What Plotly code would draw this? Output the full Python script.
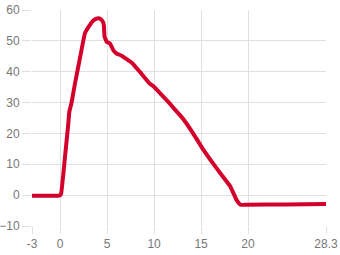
import plotly.graph_objects as go

x_vals = [-3, -2, -1, -0.2, 0.0, 0.1, 0.33, 0.54, 0.86, 0.97, 1.22, 1.57, 2.1, 2.64, 3.17, 3.5, 3.88, 4.1, 4.4, 4.6, 4.66, 4.72, 4.95, 5.3, 5.65, 6.0, 6.54, 7.25, 7.6, 8.5, 9.55, 9.9, 11.7, 12.0, 13.1, 14.2, 15.2, 16.6, 18.1, 18.8, 19.2, 20, 24, 28.3]
y_vals = [-0.2, -0.2, -0.2, -0.2, 0.0, 0.5, 6.7, 13.2, 23.0, 26.9, 30.1, 36.1, 44.3, 52.5, 55.2, 56.5, 57.2, 57.3, 56.8, 55.8, 54.6, 51.4, 49.7, 49.2, 47.0, 45.9, 45.2, 43.7, 43.0, 39.9, 36.1, 35.4, 29.6, 28.5, 24.7, 19.8, 14.9, 8.9, 2.9, -1.7, -3.1, -3.1, -3.0, -2.9]
x_ticks = [-3, 0, 5, 10, 15, 20, 28.3]
x_tick_labels = ["-3", "0", "5", "10", "15", "20", "28.3"]
y_ticks = [-10, 0, 10, 20, 30, 40, 50, 60]

fig = go.Figure()
fig.add_trace(go.Scatter(x=x_vals, y=y_vals, mode="lines",
                         line=dict(color="#d4002c", width=4, shape="spline", smoothing=0.3),
                         hoverinfo="skip"))
fig.update_layout(
    width=340, height=255,
    margin=dict(l=32, r=14, t=10, b=29),
    paper_bgcolor="white", plot_bgcolor="white",
    showlegend=False,
    font=dict(family="Liberation Sans, Arial, sans-serif", size=12, color="#777777"),
)
fig.update_xaxes(range=[-3, 28.3], tickvals=x_ticks, ticktext=x_tick_labels,
                 showgrid=True, gridcolor="#e0e0e0", gridwidth=1, zeroline=False,
                 showline=False, ticks="outside", ticklen=7, tickcolor="#e0e0e0",
                 automargin=False,
                 tickfont=dict(size=12, color="#777777"))
fig.update_yaxes(range=[-10, 60], tickvals=y_ticks,
                 showgrid=True, gridcolor="#e0e0e0", gridwidth=1, zeroline=False,
                 showline=False, ticks="outside", ticklen=9, tickcolor="#e0e0e0",
                 automargin=False,
                 tickfont=dict(size=12, color="#777777"))
fig.write_html("out.html")
